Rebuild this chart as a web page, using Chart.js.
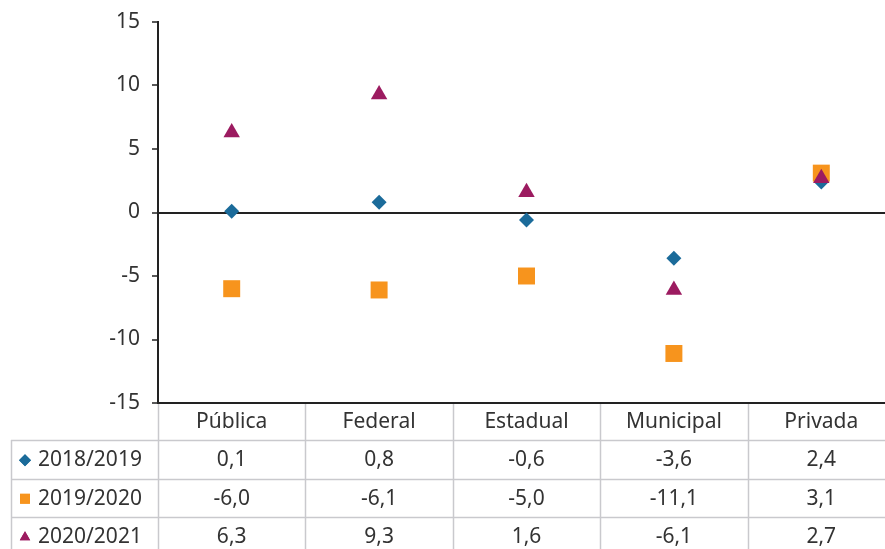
<!DOCTYPE html>
<html>
<head>
<meta charset="utf-8">
<script src="https://cdn.jsdelivr.net/npm/chart.js@4"></script>
<style>
  html, body { margin: 0; padding: 0; background: #fff; overflow: hidden; }
  #wrap { position: relative; width: 907px; height: 549px; }
</style>
</head>
<body>
<div id="wrap"><canvas id="chart"></canvas></div>
<script>
// Categorias e séries
const categorias = ['Pública', 'Federal', 'Estadual', 'Municipal', 'Privada'];
const serieRotulos = ['2018/2019', '2019/2020', '2020/2021'];
const valores1819 = [0.1, 0.8, -0.6, -3.6, 2.4];
const valores1920 = [-6.0, -6.1, -5.0, -11.1, 3.1];
const valores2021 = [6.3, 9.3, 1.6, -6.1, 2.7];
const yTicks = [-15, -10, -5, 0, 5, 10, 15];

const cores = ['#1b6b9a', '#f7941d', '#9c1b60'];
const estilos = ['rectRot', 'rect', 'triangle'];
const raios = [7.5, 12, 9.5];
const textoCor = '#333333';
const fonte = '"Noto Sans", "Open Sans", sans-serif';

// Formata número com vírgula decimal
function fmt(v) {
    return v.toFixed(1).replace('.', ',');
}

// Zera os paddings que o Chart.js reserva para os rótulos
function semPadding(s) {
    s.paddingTop = 0;
    s.paddingBottom = 0;
    s.paddingLeft = 0;
    s.paddingRight = 0;
}

// Plugin que desenha a tabela de dados abaixo do gráfico
const tabelaPlugin = {
    id: 'tabela',
    afterDraw(chart) {
        const ctx = chart.ctx;
        const area = chart.chartArea;
        const n = categorias.length;
        const w = (area.right - area.left) / n;
        const topo = area.bottom;
        const cab = 37;
        const linhaH = 38.5;
        const esq = 11;
        const series = [valores1819, valores1920, valores2021];

        ctx.save();
        ctx.strokeStyle = '#c9c9cd';
        ctx.lineWidth = 1.5;

        // linhas verticais
        for (let i = 0; i <= n; i++) {
            const x = Math.round(area.left + i * w) + 0.5;
            ctx.beginPath();
            ctx.moveTo(x, topo + 1);
            ctx.lineTo(x, chart.height);
            ctx.stroke();
        }
        ctx.beginPath();
        ctx.moveTo(esq + 0.5, topo + cab);
        ctx.lineTo(esq + 0.5, chart.height);
        ctx.stroke();

        // linhas horizontais
        for (let r = 0; r < 3; r++) {
            const y = Math.round(topo + cab + r * linhaH) + 0.5;
            ctx.beginPath();
            ctx.moveTo(esq, y);
            ctx.lineTo(area.left + n * w, y);
            ctx.stroke();
        }

        // textos
        ctx.fillStyle = textoCor;
        ctx.font = '21px ' + fonte;
        ctx.textBaseline = 'middle';
        for (let r = 0; r < 3; r++) {
            const yc = topo + cab + r * linhaH + linhaH / 2 + 1;
            // marcador da legenda
            ctx.save();
            ctx.fillStyle = cores[r];
            ctx.strokeStyle = cores[r];
            ctx.lineWidth = 0;
            Chart.helpers.drawPoint(ctx, { pointStyle: estilos[r], radius: r === 1 ? 7 : 6, borderWidth: 0 }, 25, yc);
            ctx.fill();
            ctx.restore();

            ctx.textAlign = 'left';
            ctx.fillText(serieRotulos[r], 38, yc);
            ctx.textAlign = 'center';
            series[r].forEach((v, i) => {
                ctx.fillText(fmt(v), area.left + (i + 0.5) * w, yc);
            });
        }
        ctx.restore();
    }
};

const datasets = [valores1819, valores1920, valores2021].map((vals, i) => ({
    label: serieRotulos[i],
    data: vals,
    showLine: false,
    pointStyle: estilos[i],
    pointRadius: raios[i],
    pointHoverRadius: raios[i],
    pointBackgroundColor: cores[i],
    pointBorderColor: cores[i],
    pointBorderWidth: 0,
    order: 2 - i
}));

new Chart(document.getElementById('chart'), {
    type: 'line',
    data: { labels: categorias, datasets: datasets },
    plugins: [tabelaPlugin],
    options: {
        responsive: true,
        maintainAspectRatio: false,
        animation: false,
        events: [],
        layout: { padding: { top: 22, right: 2, left: 0, bottom: 0 } },
        plugins: { legend: { display: false }, tooltip: { enabled: false } },
        scales: {
            x: {
                offset: true,
                grid: { display: false, drawTicks: false },
                border: { display: true, color: '#222', width: 2 },
                ticks: { color: textoCor, font: { family: fonte, size: 21 }, padding: 6, maxRotation: 0 },
                afterFit(s) { s.height = 146; semPadding(s); }
            },
            y: {
                min: -15,
                max: 15,
                afterBuildTicks(s) { s.ticks = yTicks.map(v => ({ value: v })); },
                grid: {
                    drawOnChartArea: true,
                    color: c => (c.tick && c.tick.value === 0) ? '#222' : 'rgba(0,0,0,0)',
                    lineWidth: c => (c.tick && c.tick.value === 0) ? 2 : 0,
                    tickColor: '#222',
                    tickLength: 6,
                    tickWidth: 1.5
                },
                border: { display: true, color: '#222', width: 2 },
                ticks: { color: textoCor, font: { family: fonte, size: 21 }, padding: 12 },
                afterFit(s) { s.width = 158; semPadding(s); }
            }
        }
    }
});
</script>
</body>
</html>
